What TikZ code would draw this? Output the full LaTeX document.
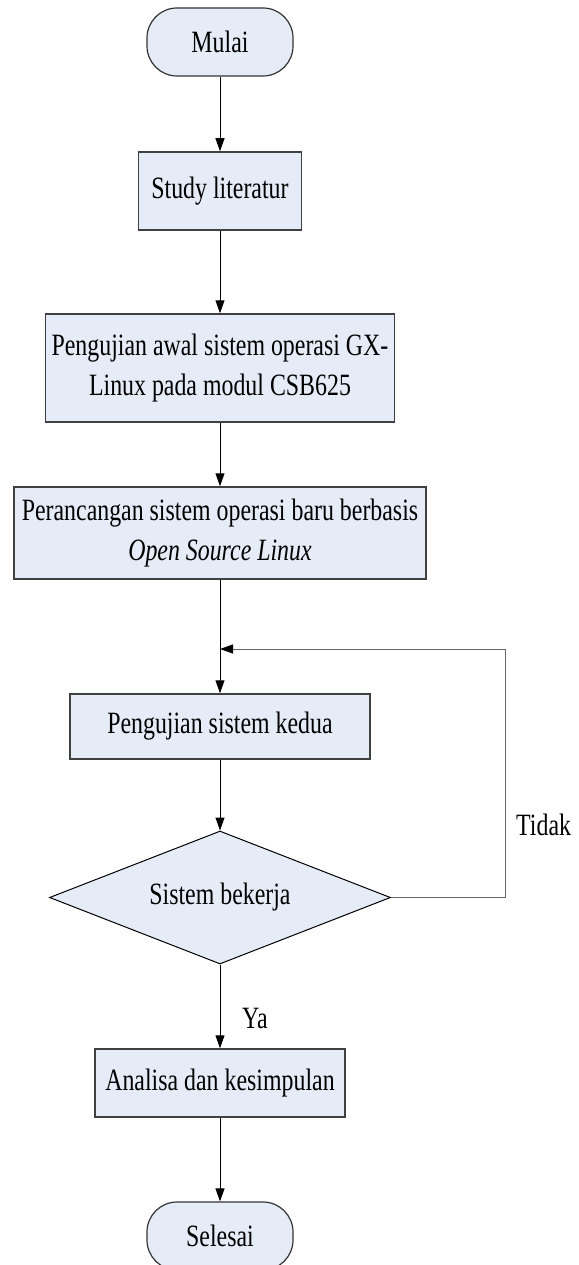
\documentclass[tikz,border=0pt]{standalone}
\usepackage{fontspec}
\setmainfont[FakeStretch=0.77]{Liberation Serif}
\usetikzlibrary{arrows.meta,shapes.geometric}
\definecolor{boxfill}{RGB}{230,236,247}

\begin{document}
\begin{tikzpicture}[
    x=1pt, y=-1pt,
    font=\fontsize{31}{40}\selectfont,
    base/.style={fill=boxfill,align=center,inner sep=0pt},
    terminal/.style={base,draw=black!80,line width=1.2pt,rounded corners=30pt,
      minimum width=146pt,minimum height=68pt},
    process/.style={base,draw=black!75,line width=1.5pt,rectangle},
    decision/.style={base,draw=black,line width=1pt,diamond,aspect=2.56,
      minimum width=341pt,minimum height=133pt},
    flow/.style={black,line width=1pt,-{Triangle[width=9pt,length=13pt,color=black]}},
    feedback/.style={flow,draw=black!60},
  ]
  \useasboundingbox (0,0) rectangle (578,1265);

  % Main steps
  \node[terminal] (mulai) at (220,42) {Mulai};
  \node[process,minimum width=163pt,minimum height=78pt] (study)
    at (220,191) {Study literatur};
  \node[process,minimum width=349pt,minimum height=108pt] (awal)
    at (220,368) {Pengujian awal sistem operasi GX-\\Linux pada modul CSB625};
  \node[process,minimum width=412pt,minimum height=92pt] (rancang)
    at (220,533) {Perancangan sistem operasi baru berbasis\\\textit{Open Source Linux}};
  \coordinate (merge) at (220,649);
  \node[process,minimum width=300pt,minimum height=65pt] (kedua)
    at (220,726.5) {Pengujian sistem kedua};
  \node[decision] (cek) at (220,897.5) {Sistem bekerja};
  \node[process,minimum width=250pt,minimum height=68pt] (analisa)
    at (220,1083) {Analisa dan kesimpulan};
  \node[terminal] (selesai) at (220,1236) {Selesai};

  % Flow
  \foreach \from/\to in {mulai/study, study/awal, awal/rancang, rancang/kedua,
                         kedua/cek, cek/analisa, analisa/selesai}
    \draw[flow] (\from) -- (\to);

  % Loop back when the test fails
  \draw[feedback] (cek.east) -| ([xshift=285pt] merge) -- (merge);

  % Labels
  \node[anchor=base west,inner sep=0pt] (tidak) at (516,835) {Tidak};
  \node[anchor=base west,inner sep=0pt] (ya) at (242,1028) {Ya};
\end{tikzpicture}
\end{document}
